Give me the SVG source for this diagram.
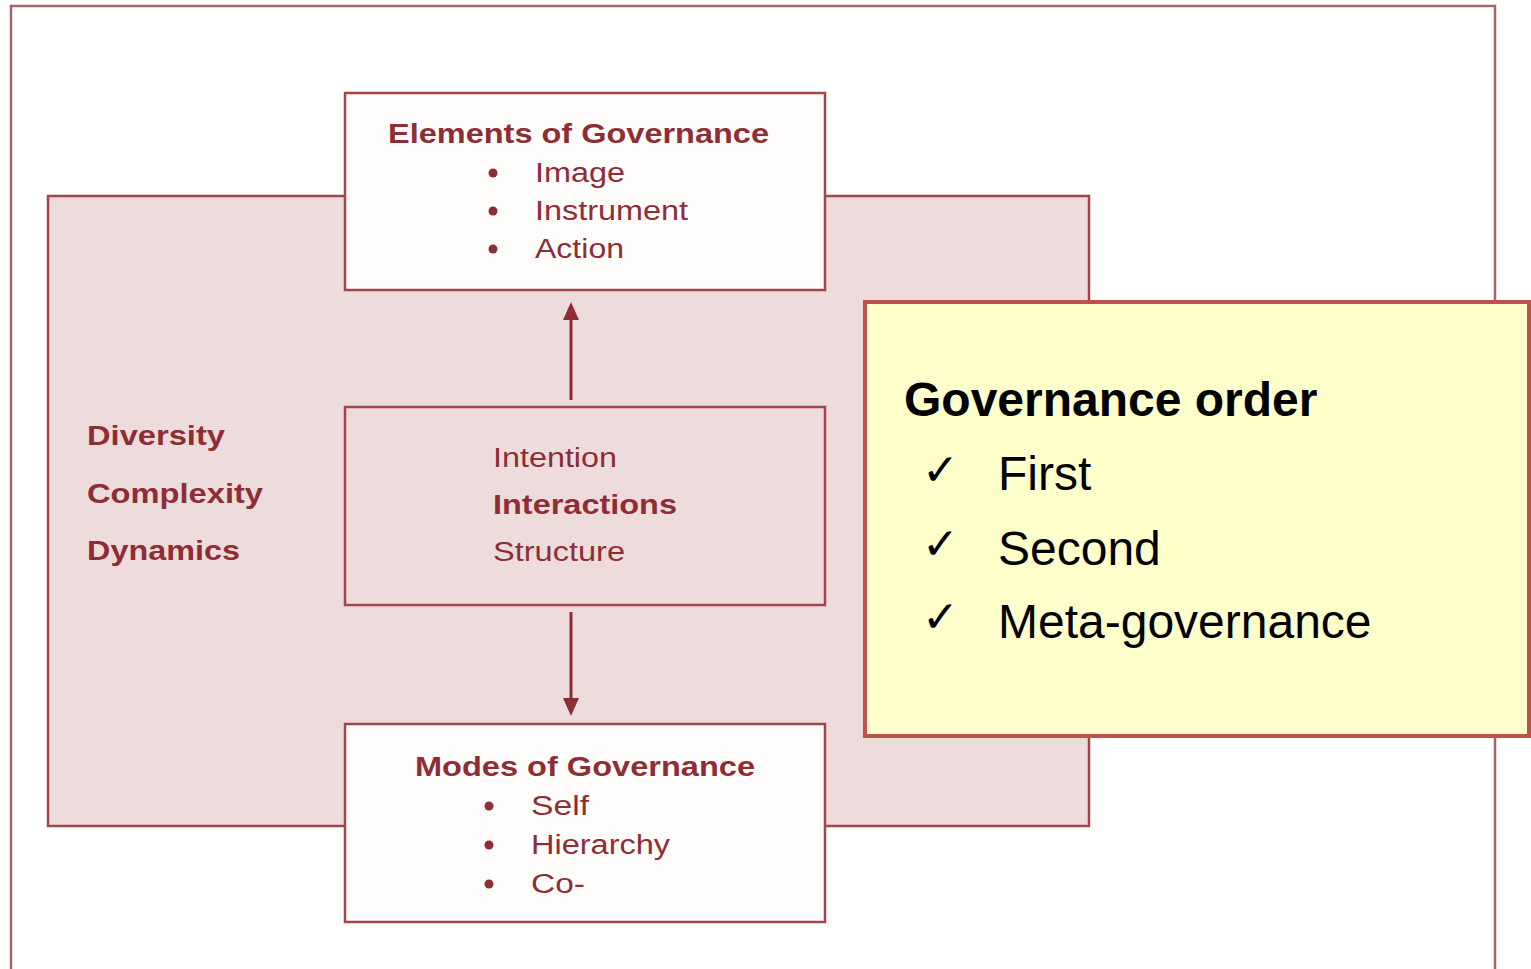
<svg xmlns="http://www.w3.org/2000/svg" width="1531" height="969" viewBox="0 0 1531 969">
<defs>
<style>
.t{font-family:"Liberation Sans",Arial,sans-serif;fill:#8E2D34;font-size:27px}
.b{font-weight:bold}
.box{stroke:#A4454C;stroke-width:2.5}
.y{font-family:"Liberation Sans",Arial,sans-serif;fill:#000;font-size:48px}
.ck{font-family:"DejaVu Sans",sans-serif;fill:#000;font-size:44px}
.bul{fill:#8E2D34}
</style>
</defs>
<rect x="0" y="0" width="1531" height="969" fill="#ffffff"/>
<rect id="frame" x="11" y="6" width="1484" height="980" fill="#FFFFFF" stroke="#A8626A" stroke-width="2.5"/>
<g id="context">
<rect x="48" y="196" width="1041" height="630" fill="#EEDCDD" class="box"/>
<text class="t b" x="87" y="445" font-size="28" textLength="138" lengthAdjust="spacingAndGlyphs">Diversity</text>
<text class="t b" x="87" y="503" font-size="28" textLength="176" lengthAdjust="spacingAndGlyphs">Complexity</text>
<text class="t b" x="87" y="560" font-size="28" textLength="153" lengthAdjust="spacingAndGlyphs">Dynamics</text>
</g>
<g id="elements">
<rect x="345" y="93" width="480" height="197" fill="#FFFCFC" class="box"/>
<text class="t b" x="388" y="143" textLength="381" lengthAdjust="spacingAndGlyphs">Elements of Governance</text>
<circle class="bul" cx="493" cy="173" r="4.5"/>
<circle class="bul" cx="493" cy="211" r="4.5"/>
<circle class="bul" cx="493" cy="249" r="4.5"/>
<text class="t" x="535" y="182" textLength="90" lengthAdjust="spacingAndGlyphs">Image</text>
<text class="t" x="535" y="220" textLength="153" lengthAdjust="spacingAndGlyphs">Instrument</text>
<text class="t" x="535" y="258" textLength="89" lengthAdjust="spacingAndGlyphs">Action</text>
</g>
<g id="interactions">
<rect x="345" y="407" width="480" height="198" fill="#EEDCDD" class="box"/>
<text class="t" x="493" y="467" textLength="124" lengthAdjust="spacingAndGlyphs">Intention</text>
<text class="t b" x="493" y="514" textLength="184" lengthAdjust="spacingAndGlyphs">Interactions</text>
<text class="t" x="493" y="561" textLength="132" lengthAdjust="spacingAndGlyphs">Structure</text>
</g>
<g id="modes">
<rect x="345" y="724" width="480" height="198" fill="#FFFCFC" class="box"/>
<text class="t b" x="415" y="776" textLength="340" lengthAdjust="spacingAndGlyphs">Modes of Governance</text>
<circle class="bul" cx="489" cy="806" r="4.5"/>
<circle class="bul" cx="489" cy="845" r="4.5"/>
<circle class="bul" cx="489" cy="884" r="4.5"/>
<text class="t" x="531" y="815" textLength="58" lengthAdjust="spacingAndGlyphs">Self</text>
<text class="t" x="531" y="854" textLength="139" lengthAdjust="spacingAndGlyphs">Hierarchy</text>
<text class="t" x="531" y="893" textLength="54" lengthAdjust="spacingAndGlyphs">Co-</text>
</g>
<g id="connectors" stroke="#8E2D34" stroke-width="3" fill="#8E2D34">
<line x1="571" y1="400" x2="571" y2="316"/>
<path d="M563,320 L571,302 L579,320 z" stroke="none"/>
<line x1="571" y1="612" x2="571" y2="700"/>
<path d="M563,698 L571,716 L579,698 z" stroke="none"/>
</g>
<g id="order">
<rect x="865" y="302" width="664" height="434" fill="#FFFFCC" stroke="#C0504D" stroke-width="4"/>
<text class="y b" x="904" y="416">Governance order</text>
<text class="ck" x="922" y="485">✓</text>
<text class="ck" x="922" y="559">✓</text>
<text class="ck" x="922" y="632">✓</text>
<text class="y" x="998" y="490">First</text>
<text class="y" x="998" y="565">Second</text>
<text class="y" x="998" y="638">Meta-governance</text>
</g>
</svg>
